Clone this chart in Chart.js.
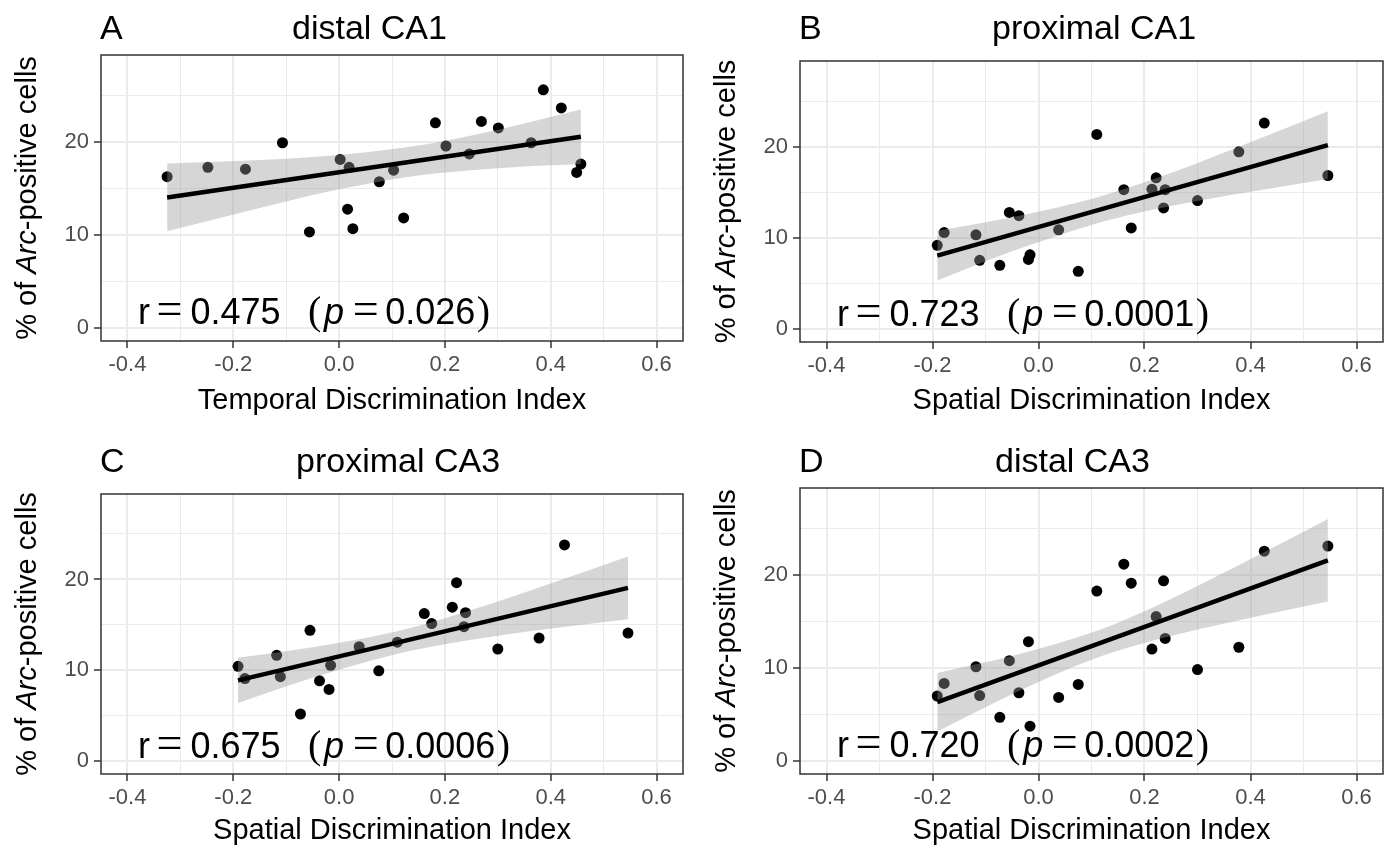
<!DOCTYPE html>
<html>
<head>
<meta charset="utf-8">
<title>Arc-positive cells vs discrimination index</title>
<script src="https://cdn.jsdelivr.net/npm/chart.js@4.4.1/dist/chart.umd.min.js"></script>
<style>
html, body { margin: 0; padding: 0; background: #ffffff; overflow: hidden; }
body { width: 1389px; height: 847px; position: relative; }
canvas { position: absolute; }
</style>
</head>
<body>
<canvas id="panelA" width="695" height="430" style="left:0px;top:0px"></canvas>
<canvas id="panelB" width="695" height="430" style="left:694px;top:0px"></canvas>
<canvas id="panelC" width="695" height="430" style="left:0px;top:430px"></canvas>
<canvas id="panelD" width="695" height="430" style="left:694px;top:430px"></canvas>
<script>
// axis ticks (major ones get labels, minor ones only a grid line)
var xTicks = [-0.4, -0.2, 0.0, 0.2, 0.4, 0.6];
var xMinor = [-0.3, -0.1, 0.1, 0.3, 0.5];
var yTicks = [0, 10, 20];
var yMinor = [5, 15, 25];

// A: temporal index vs distal CA1
var temporalIndex = [-0.325, -0.248, -0.177, -0.107, -0.056, 0.002, 0.019, 0.016, 0.026, 0.076, 0.103,
	0.122, 0.182, 0.202, 0.246, 0.269, 0.301, 0.363, 0.386, 0.420, 0.449, 0.457];
var distalCA1 = [16.3, 17.3, 17.1, 19.95, 10.35, 18.15, 17.3, 12.8, 10.7, 15.75, 17.0,
	11.85, 22.1, 19.6, 18.75, 22.25, 21.55, 19.95, 25.65, 23.7, 16.75, 17.65];

// B, C, D share the spatial index
var spatialIndex = [-0.191, -0.178, -0.118, -0.111, -0.073, -0.055, -0.037, -0.019, -0.016, 0.038, 0.075,
	0.110, 0.161, 0.175, 0.214, 0.222, 0.239, 0.236, 0.300, 0.378, 0.426, 0.546];
var proximalCA1 = [9.2, 10.6, 10.35, 7.55, 7.0, 12.8, 12.45, 7.65, 8.15, 10.9, 6.35,
	21.35, 15.3, 11.1, 15.35, 16.6, 15.3, 13.3, 14.1, 19.45, 22.6, 16.85];
var proximalCA3 = [10.45, 9.1, 11.65, 9.3, 5.2, 14.4, 8.85, 7.9, 10.55, 12.6, 9.95,
	13.1, 16.25, 15.15, 16.95, 19.65, 16.35, 14.8, 12.35, 13.55, 23.8, 14.1];
var distalCA3 = [7.0, 8.35, 10.15, 7.05, 4.7, 10.8, 7.35, 12.85, 3.75, 6.85, 8.25,
	18.3, 21.2, 19.15, 12.05, 15.55, 13.2, 19.4, 9.85, 12.25, 22.6, 23.15];

// fitted lines (end points) and confidence bands
var temporalFitX = [-0.325, 0.457];
var spatialFitX = [-0.191, 0.546];
var distalCA1Fit = [14.06, 20.6];
var proximalCA1Fit = [8.07, 20.18];
var proximalCA3Fit = [8.9, 19.08];
var distalCA3Fit = [6.33, 21.61];

var temporalBandX = [-0.325, -0.22, -0.1, 0.0, 0.12, 0.2, 0.3, 0.4, 0.457];
var distalCA1Low = [10.41, 11.94, 13.63, 14.93, 16.19, 16.75, 17.21, 17.53, 17.67];
var distalCA1High = [17.71, 17.92, 18.23, 18.63, 19.41, 20.15, 21.35, 22.71, 23.53];

var spatialBandX = [-0.191, -0.12, -0.05, 0.105, 0.2, 0.3, 0.42, 0.546];
var proximalCA1Low = [5.35, 6.99, 8.54, 11.52, 12.9, 14.06, 15.27, 16.46];
var proximalCA1High = [10.79, 11.51, 12.27, 14.36, 16.1, 18.22, 20.95, 23.9];
var proximalCA3Low = [6.4, 7.83, 9.18, 11.75, 12.88, 13.8, 14.73, 15.63];
var proximalCA3High = [11.4, 11.95, 12.54, 14.25, 15.74, 17.58, 19.97, 22.53];
var distalCA3Low = [3.17, 5.22, 7.19, 11.01, 12.71, 14.15, 15.67, 17.17];
var distalCA3High = [9.49, 10.38, 11.31, 13.91, 16.13, 18.85, 22.31, 26.05];

var rValues = ['0.475', '0.723', '0.675', '0.720'];
var pValues = ['0.026', '0.0001', '0.0006', '0.0002'];

var SANS = '"Liberation Sans", Arial, sans-serif';
var SERIF = '"Liberation Serif", "Times New Roman", serif';

function pairs(xs, ys){
	return xs.map(function(x, i){ return {x: x, y: ys[i]}; });
}

function isTick(list, v){
	return list.some(function(t){ return Math.abs(t - v) < 1e-9; });
}

// letter, title, y title, statistic and panel border
var panelText = {
	id: 'panelText',
	afterDraw: function(chart, args, o){
		var ctx = chart.ctx;
		var a = chart.chartArea;
		ctx.save();
		ctx.strokeStyle = '#333333';
		ctx.lineWidth = 1.5;
		ctx.strokeRect(a.left, a.top, a.right - a.left, a.bottom - a.top);

		ctx.fillStyle = '#000000';
		ctx.textAlign = 'left';
		ctx.textBaseline = 'alphabetic';
		ctx.font = '34px ' + SANS;
		ctx.fillText(o.letter, a.left - 1, o.titleBase);
		ctx.fillText(o.title, o.titleLeft, o.titleBase);

		// y axis title with italic gene name
		var parts = [['% of ', ''], ['Arc', 'italic '], ['-positive cells', '']];
		var total = 0;
		parts.forEach(function(p){
			ctx.font = p[1] + '29px ' + SANS;
			total += ctx.measureText(p[0]).width;
		});
		ctx.save();
		ctx.translate(a.left - 65, (a.top + a.bottom) / 2);
		ctx.rotate(-Math.PI / 2);
		var x = -total / 2;
		parts.forEach(function(p){
			ctx.font = p[1] + '29px ' + SANS;
			ctx.fillText(p[0], x, 0);
			x += ctx.measureText(p[0]).width;
		});
		ctx.restore();

		// r = ...  (p = ...)
		var sx = chart.scales.x.getPixelForValue(-0.38);
		var sy = chart.scales.y.getPixelForValue(0.4);
		var sans = '36px ' + SANS, ital = 'italic 36px ' + SANS;
		var eq = '46px ' + SERIF, paren = '40px ' + SERIF;
		var pieces = [
			['r', sans, 6.5], ['=', eq, 8], [o.r, sans, 27.5], ['(', paren, 2.7],
			['p', ital, 8.6], ['=', eq, 6.5], [o.p, sans, 1.5], [')', paren, 0]
		];
		pieces.forEach(function(p){
			ctx.font = p[1];
			ctx.fillText(p[0], sx, sy);
			sx += ctx.measureText(p[0]).width + p[2];
		});
		ctx.restore();
	}
};

function buildPanel(cfg){
	var ctx = document.getElementById(cfg.id);
	var cellTop = cfg.cellTop, cellLeft = cfg.cellLeft;
	var box = cfg.box;
	var xHeight = 80;
	var scaleBottom = box.b - cellTop + xHeight;
	var allX = xTicks.concat(xMinor).sort(function(a, b){ return a - b; });
	var allY = yTicks.concat(yMinor).sort(function(a, b){ return a - b; });

	var chart = new Chart(ctx, {
		type: 'scatter',
		data: {
			datasets: [
			{
				type: 'line',
				data: pairs(cfg.fitX, cfg.fitY),
				borderColor: '#000000',
				borderWidth: 4.5,
				pointRadius: 0,
				fill: false,
				order: 0
			},
			{
				type: 'line',
				data: pairs(cfg.bandX, cfg.bandHigh),
				borderColor: 'rgba(0,0,0,0)',
				borderWidth: 0,
				pointRadius: 0,
				cubicInterpolationMode: 'monotone',
				backgroundColor: 'rgba(153,153,153,0.4)',
				fill: '+1',
				order: 1
			},
			{
				type: 'line',
				data: pairs(cfg.bandX, cfg.bandLow),
				borderColor: 'rgba(0,0,0,0)',
				borderWidth: 0,
				pointRadius: 0,
				cubicInterpolationMode: 'monotone',
				fill: false,
				order: 1
			},
			{
				data: pairs(cfg.x, cfg.y),
				pointRadius: 5.5,
				pointBackgroundColor: '#000000',
				pointBorderWidth: 0,
				order: 2
			}
			]
		},
		options: {
			responsive: false,
			animation: false,
			devicePixelRatio: 1,
			events: [],
			layout: {
				padding: {
					left: 0,
					top: box.t - cellTop,
					right: cellLeft + 695 - box.r,
					bottom: 430 - scaleBottom
				}
			},
			scales: {
				x: {
					type: 'linear',
					min: -0.45,
					max: 0.65,
					afterBuildTicks: function(s){ s.ticks = allX.map(function(v){ return {value: v}; }); },
					afterFit: function(s){ s.height = xHeight; },
					border: {display: false},
					grid: {
						color: '#EBEBEB',
						lineWidth: function(c){ return c.tick && isTick(xTicks, c.tick.value) ? 2 : 1; },
						tickColor: function(c){ return c.tick && isTick(xTicks, c.tick.value) ? '#333333' : 'rgba(0,0,0,0)'; },
						tickLength: 7,
						tickWidth: 1.5
					},
					ticks: {
						autoSkip: false,
						maxRotation: 0,
						padding: 4,
						color: '#4D4D4D',
						font: {family: SANS, size: 22},
						callback: function(v){ return isTick(xTicks, v) ? v.toFixed(1) : ''; }
					},
					title: {
						display: true,
						text: cfg.xTitle,
						color: '#000000',
						font: {family: SANS, size: 29},
						padding: {top: 0, bottom: scaleBottom - 17.4 - (cfg.xTitleY - cellTop)}
					}
				},
				y: {
					type: 'linear',
					min: -1.4,
					max: 29.4,
					afterBuildTicks: function(s){ s.ticks = allY.map(function(v){ return {value: v}; }); },
					afterFit: function(s){ s.width = box.l - cellLeft; },
					border: {display: false},
					grid: {
						color: '#EBEBEB',
						lineWidth: function(c){ return c.tick && isTick(yTicks, c.tick.value) ? 2 : 1; },
						tickColor: function(c){ return c.tick && isTick(yTicks, c.tick.value) ? '#333333' : 'rgba(0,0,0,0)'; },
						tickLength: 7,
						tickWidth: 1.5
					},
					ticks: {
						autoSkip: false,
						padding: 5,
						color: '#4D4D4D',
						font: {family: SANS, size: 22},
						callback: function(v){ return isTick(yTicks, v) ? String(v) : ''; }
					}
				}
			},
			plugins: {
				legend: {display: false},
				tooltip: {enabled: false},
				panelText: {
					letter: cfg.letter,
					title: cfg.title,
					titleLeft: cfg.titleLeft - cellLeft,
					titleBase: cfg.titleBase - cellTop,
					r: cfg.r,
					p: cfg.p
				}
			}
		},
		plugins: [panelText]
	});
	return chart;
}

window.chartA = buildPanel({
	id: 'panelA', cellLeft: 0, cellTop: 0,
	box: {l: 101, t: 55, r: 683, b: 341},
	letter: 'A', title: 'distal CA1', titleLeft: 292, titleBase: 39, xTitleY: 401,
	xTitle: 'Temporal Discrimination Index',
	x: temporalIndex, y: distalCA1, fitX: temporalFitX, fitY: distalCA1Fit,
	bandX: temporalBandX, bandLow: distalCA1Low, bandHigh: distalCA1High,
	r: rValues[0], p: pValues[0]
});

window.chartB = buildPanel({
	id: 'panelB', cellLeft: 694, cellTop: 0,
	box: {l: 800, t: 61, r: 1383, b: 342},
	letter: 'B', title: 'proximal CA1', titleLeft: 992, titleBase: 39, xTitleY: 401,
	xTitle: 'Spatial Discrimination Index',
	x: spatialIndex, y: proximalCA1, fitX: spatialFitX, fitY: proximalCA1Fit,
	bandX: spatialBandX, bandLow: proximalCA1Low, bandHigh: proximalCA1High,
	r: rValues[1], p: pValues[1]
});

window.chartC = buildPanel({
	id: 'panelC', cellLeft: 0, cellTop: 430,
	box: {l: 101, t: 494, r: 683, b: 774},
	letter: 'C', title: 'proximal CA3', titleLeft: 296, titleBase: 472, xTitleY: 831,
	xTitle: 'Spatial Discrimination Index',
	x: spatialIndex, y: proximalCA3, fitX: spatialFitX, fitY: proximalCA3Fit,
	bandX: spatialBandX, bandLow: proximalCA3Low, bandHigh: proximalCA3High,
	r: rValues[2], p: pValues[2]
});

window.chartD = buildPanel({
	id: 'panelD', cellLeft: 694, cellTop: 430,
	box: {l: 800, t: 488, r: 1383, b: 774},
	letter: 'D', title: 'distal CA3', titleLeft: 995, titleBase: 472, xTitleY: 831,
	xTitle: 'Spatial Discrimination Index',
	x: spatialIndex, y: distalCA3, fitX: spatialFitX, fitY: distalCA3Fit,
	bandX: spatialBandX, bandLow: distalCA3Low, bandHigh: distalCA3High,
	r: rValues[3], p: pValues[3]
});
</script>
</body>
</html>
